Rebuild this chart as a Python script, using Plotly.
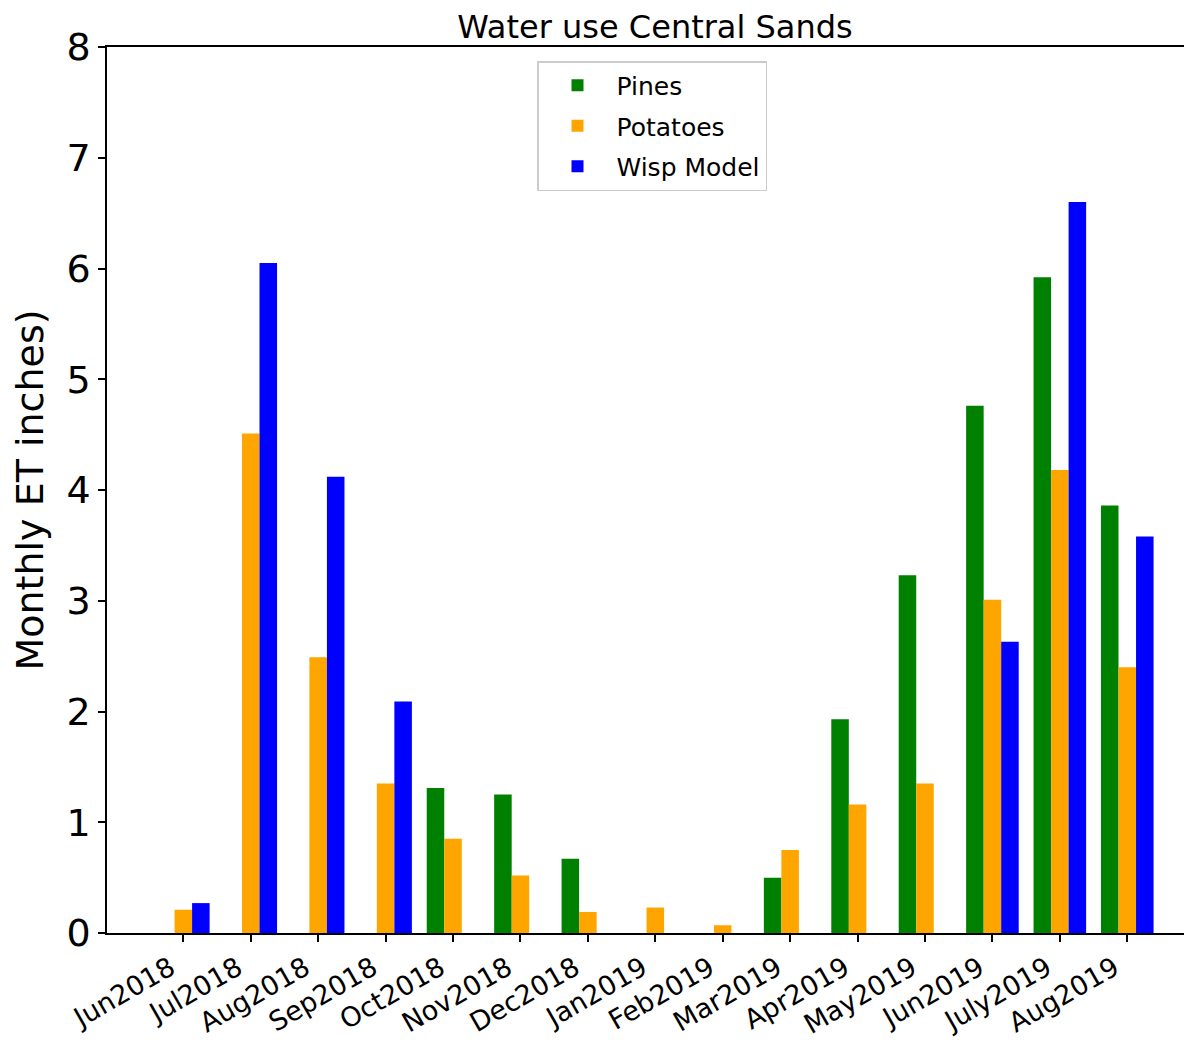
import plotly.graph_objects as go

months = ["Jun2018", "Jul2018", "Aug2018", "Sep2018", "Oct2018", "Nov2018", "Dec2018",
          "Jan2019", "Feb2019", "Mar2019", "Apr2019", "May2019", "Jun2019", "July2019", "Aug2019"]
pines = [None, None, None, None, 1.31, 1.25, 0.67, None, None, 0.50, 1.93, 3.23, 4.76, 5.92, 3.86]
potatoes = [0.21, 4.51, 2.49, 1.35, 0.85, 0.52, 0.19, 0.23, 0.07, 0.75, 1.16, 1.35, 3.01, 4.18, 2.40]
wisp = [0.27, 6.05, 4.12, 2.09, None, None, None, None, None, None, None, None, 2.63, 6.60, 3.58]

FONT = "DejaVu Sans"

# the page puts the figure at an 8px offset, so figure size is window minus 8
W, H = 1184, 1034
L, T, B = 99, 39, 109
PW = W - L
PH = H - T - B

fig = go.Figure()
fig.add_trace(go.Bar(name="Pines", x=months, y=pines, legendgroup="a",
                     marker=dict(color="#008000", line=dict(width=0))))
fig.add_trace(go.Bar(name="Potatoes", x=months, y=potatoes, legendgroup="b",
                     marker=dict(color="#FFA500", line=dict(width=0))))
fig.add_trace(go.Bar(name="Wisp Model", x=months, y=wisp, legendgroup="c",
                     marker=dict(color="#0000FF", line=dict(width=0))))

fig.update_layout(
    width=W, height=H,
    margin=dict(l=L, r=0, t=T, b=B, pad=0),
    paper_bgcolor="white", plot_bgcolor="white",
    barmode="group", bargap=0.22, bargroupgap=0,
    font=dict(family=FONT, color="black"),
    title=dict(text="Water use Central Sands", x=647 / W, xanchor="center", xref="container",
               y=1 - 19 / H, yanchor="middle", font=dict(size=32, family=FONT, color="black")),
    showlegend=True,
    legend=dict(x=(529 - L) / PW, y=(H - B - 53) / PH, xanchor="left", yanchor="top",
                bgcolor="white", bordercolor="#cccccc", borderwidth=1.5,
                tracegroupgap=5, traceorder="grouped",
                font=dict(size=25, family=FONT, color="black"), itemwidth=68),
)
fig.update_xaxes(
    range=[-1.132, 14.96], showline=True, linecolor="black", linewidth=1.5, mirror=True,
    ticks="outside", ticklen=7, tickcolor="black", tickwidth=1.5, tickangle=-30,
    ticklabelshift=-13,
    tickfont=dict(size=27, family=FONT, color="black"), showgrid=False, zeroline=False,
)
fig.update_yaxes(
    range=[0, 8], dtick=1, showline=True, linecolor="black", linewidth=1.5, mirror=False,
    ticks="outside", ticklen=7, tickcolor="black", tickwidth=1.5,
    tickfont=dict(size=38, family=FONT, color="black"), showgrid=False, zeroline=False,
    title=dict(text="Monthly ET inches)", font=dict(size=38, family=FONT, color="black"), standoff=12),
)

fig.write_html("out.html")
